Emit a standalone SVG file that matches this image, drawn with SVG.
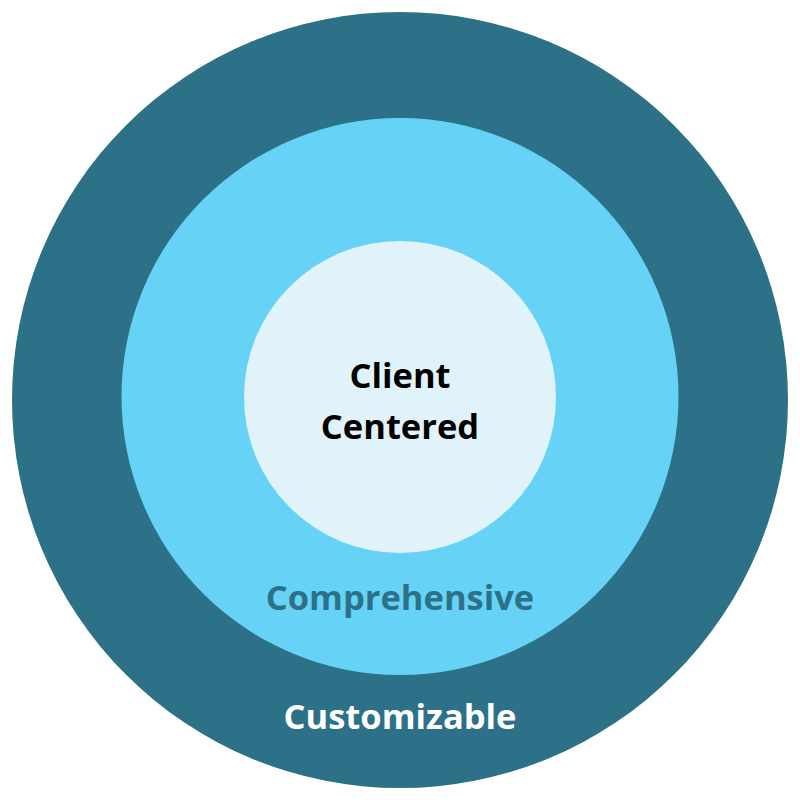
<svg xmlns="http://www.w3.org/2000/svg" width="800" height="800" viewBox="0 0 800 800">
<style>
text{font-family:"Open Sans","Noto Sans","DejaVu Sans",sans-serif;font-weight:bold;font-size:34.5px;text-anchor:middle}
</style>
<rect width="800" height="800" fill="#ffffff"/>
<g id="customizable">
<circle cx="400" cy="400" r="388" fill="#2C7187"/>
<text x="400" y="729" fill="#ffffff">Customizable</text>
</g>
<g id="comprehensive">
<circle cx="400" cy="396.5" r="278.5" fill="#66D3F6"/>
<text x="400" y="610" fill="#2C7187">Comprehensive</text>
</g>
<g id="client-centered">
<circle cx="400" cy="397" r="156" fill="#E1F3FA"/>
<text x="400" y="388" fill="#000000">Client</text>
<text x="400" y="439" fill="#000000">Centered</text>
</g>
<g id="connectors"/>
</svg>
